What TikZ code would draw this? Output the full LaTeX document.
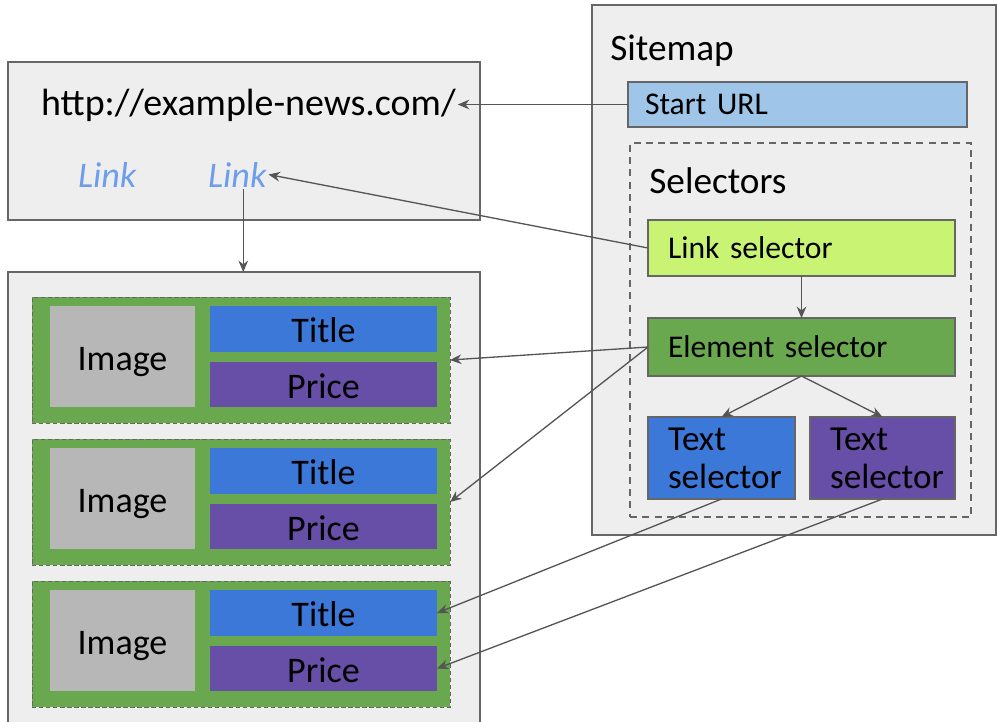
\documentclass[tikz,border=0pt]{standalone}
\usepackage{fontspec}
\setmainfont{Carlito}
\usetikzlibrary{arrows.meta,positioning}

\definecolor{panelbg}{HTML}{EEEEEE}
\definecolor{edgegray}{HTML}{666666}
\definecolor{arrowgray}{HTML}{555555}
\definecolor{urlblue}{HTML}{9FC5E8}
\definecolor{linkgreen}{HTML}{C9F373}
\definecolor{elemgreen}{HTML}{6AA84F}
\definecolor{titleblue}{HTML}{3C78D8}
\definecolor{pricepurple}{HTML}{674EA7}
\definecolor{imggray}{HTML}{B7B7B7}
\definecolor{linkblue}{HTML}{6D9EEB}

\newcommand{\pxu}{0.02cm}
\newcommand{\bigfont}{\fontsize{20.5}{24}\selectfont}
\newcommand{\headfont}{\fontsize{21.2}{24}\selectfont}
\newcommand{\smallfont}{\fontsize{18}{21.5}\selectfont}

\begin{document}
\begin{tikzpicture}[
    x=0.02cm, y=-0.02cm,
    sz/.style 2 args={minimum width=#1*\pxu, minimum height=#2*\pxu},
    panel/.style={draw=edgegray, fill=panelbg, line width=0.9pt, inner sep=0pt, outer sep=0pt},
    field/.style={inner sep=0pt, outer sep=0pt, font=\bigfont, text height=15.9pt, text depth=0pt},
    item/.style={draw=edgegray, fill=elemgreen, line width=0.55pt, dash pattern=on 2.5pt off 1.5pt, inner sep=0pt, outer sep=0pt},
    selbox/.style={draw=edgegray, line width=0.8pt, inner xsep=20*\pxu, inner ysep=0pt, outer sep=0pt, align=left, font=\smallfont, text height=12.5pt, text depth=0pt},
    arrow/.style={-{Stealth[length=6.5pt, width=5.5pt]}, draw=arrowgray, line width=0.75pt}
]

\useasboundingbox (0,0) rectangle (997,721);
\clip (0,0) rectangle (997,721);

% page with the start url
\node[panel, sz={472}{158}] (page) at (244,141) {};
\node[anchor=base west, inner sep=1pt, font=\fontsize{21.6}{24}\selectfont] (url) at (39,115) {http://example-news.com/};
\node[anchor=base west, inner sep=1pt, font=\bigfont\itshape, text=linkblue] (link1) at (76,187) {Link};
\node[anchor=base west, inner sep=1pt, font=\bigfont\itshape, text=linkblue] (link2) at (206,187) {Link};

% list page
\node[panel, sz={472}{468}] (list) at (244,506) {};
\foreach \i in {1,2,3} {
    \pgfmathsetmacro{\yy}{360+142*(\i-1)}
    \node[item, sz={418}{126}] (item\i) at (241,\yy) {};
    \node[field, fill=imggray, sz={145}{101}] (img\i) at (122.5,\yy-3.5) {Image};
    \node[field, fill=titleblue, sz={227}{46}] (title\i) at (323.5,\yy-31) {Title};
    \node[field, fill=pricepurple, sz={227}{45}] (price\i) at (323.5,\yy+24.5) {Price};
}

% sitemap
\node[panel, sz={404}{530}] (sitemap) at (794,270) {};
\node[anchor=base west, inner sep=0pt, font=\headfont] (sitemaplabel) at (610,60) {Sitemap};
\node[selbox, fill=urlblue, sz={339}{45}, inner xsep=17*\pxu, text width=305*\pxu, text height=11.5pt] (starturl) at (797.5,104.5) {Start URL};
\node[draw=edgegray, line width=0.7pt, dash pattern=on 4pt off 3pt, sz={341}{374}, inner sep=0pt] (selectors) at (800.5,330) {};
\node[anchor=base west, inner sep=0pt, font=\headfont] (selectorslabel) at (649,193) {Selectors};
\node[selbox, fill=linkgreen, sz={307}{56}, text width=267*\pxu] (linksel) at (801.5,248) {Link selector};
\node[selbox, fill=elemgreen, sz={307}{58}, text width=267*\pxu] (elemsel) at (801.5,347) {Element selector};
\node[selbox, fill=titleblue, sz={147}{82}, text width=107*\pxu, font=\fontsize{20}{21.5}\selectfont, text height=, text depth=] (textsel1) at (721.5,458) {Text\\selector};
\node[selbox, fill=pricepurple, sz={145}{82}, text width=105*\pxu, font=\fontsize{20}{21.5}\selectfont, text height=, text depth=] (textsel2) at (882.5,458) {Text\\selector};

% connections
\draw[arrow] (starturl.west) -- (starturl.west -| url.east);
\draw[arrow] (linksel.west) -- (link2.east);
\draw[arrow] ([xshift=6*\pxu]link2.south) -- ([xshift=6*\pxu]link2.south |- list.north);
\draw[arrow] (linksel.south) -- (elemsel.north);
\draw[arrow] (elemsel.south) -- (textsel1.north);
\draw[arrow] (elemsel.south) -- (textsel2.north);
\draw[arrow] (elemsel.west) -- (item1.east);
\draw[arrow] (elemsel.west) -- (item2.east);
\draw[arrow] (textsel1.south) -- (title3.east);
\draw[arrow] (textsel2.south) -- (price3.east);

\end{tikzpicture}
\end{document}
